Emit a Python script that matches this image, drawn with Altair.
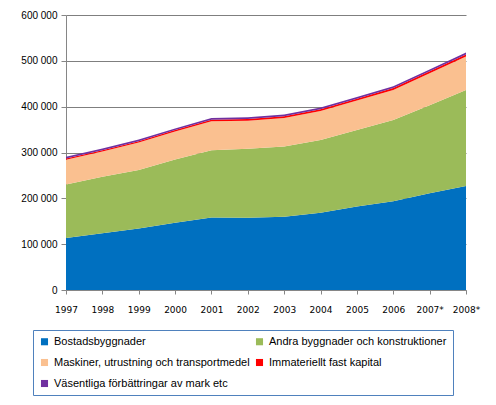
import altair as alt
import pandas as pd

years = ["1997", "1998", "1999", "2000", "2001", "2002",
         "2003", "2004", "2005", "2006", "2007*", "2008*"]

series_names = [
    "Bostadsbyggnader",
    "Andra byggnader och konstruktioner",
    "Maskiner, utrustning och transportmedel",
    "Immateriellt fast kapital",
    "Väsentliga förbättringar av mark etc",
]
series_colors = ["#0070c0", "#9bbb59", "#fac090", "#ff0000", "#7030a0"]

bostad = [113500, 123700, 134000, 147000, 158000, 157500,
          160000, 168800, 182000, 193600, 211000, 227000]
andra = [116500, 123300, 128000, 138000, 147000, 150500,
         153000, 158700, 167000, 177400, 192000, 209600]
maskiner = [54000, 55000, 59600, 60600, 63000, 61500,
            62500, 63300, 64300, 65600, 70000, 72800]
immateriellt = [3000, 3100, 3200, 3300, 3500, 3500,
                3500, 3600, 3800, 3900, 4100, 4300]
mark = [3500, 3600, 3600, 3700, 3800, 3800,
        3900, 3900, 4000, 4100, 4200, 4400]

rows = []
for idx, (name, vals) in enumerate(zip(series_names, [bostad, andra, maskiner, immateriellt, mark])):
    for yr, v in zip(years, vals):
        rows.append({"year": yr, "serie": name, "value": v, "idx": idx})
df = pd.DataFrame(rows)

chart = alt.Chart(df).mark_area(opacity=1).encode(
    x=alt.X("year:O", sort=years, title=None,
            scale=alt.Scale(type="point", padding=0),
            axis=alt.Axis(labelAngle=0, labelFont="DejaVu Sans", labelFontSize=9,
                          labelColor="#000000", labelPadding=11, tickSize=4,
                          tickColor="#868686", domainColor="#868686", grid=False)),
    y=alt.Y("value:Q", stack="zero", title=None,
            scale=alt.Scale(domain=[0, 600000], nice=False),
            axis=alt.Axis(values=[0, 100000, 200000, 300000, 400000, 500000, 600000],
                          labelExpr="replace(format(datum.value, ','), ',', ' ')",
                          labelFont="Liberation Sans", labelFontSize=10,
                          labelColor="#000000", labelPadding=4, tickSize=5,
                          tickColor="#868686", domainColor="#868686",
                          gridColor="#7f7f7f", gridWidth=1)),
    color=alt.Color("serie:N", sort=series_names,
                    scale=alt.Scale(domain=series_names, range=series_colors),
                    legend=alt.Legend(title=None, orient="none", legendX=-33, legendY=315,
                                      columns=2, direction="horizontal", gridAlign="all",
                                      symbolType="square", symbolSize=50,
                                      symbolStrokeWidth=0, labelFont="Liberation Sans",
                                      labelFontSize=11, labelColor="#000000",
                                      rowPadding=9, columnPadding=4, labelLimit=300,
                                      strokeColor="#4f81bd", padding=6)),
    order=alt.Order("idx:Q", sort="ascending"),
).properties(
    width=400,
    height=275,
    autosize=alt.AutoSizeParams(type="none"),
    padding={"left": 58, "top": 7, "right": 22, "bottom": 107},
).configure_view(stroke=None)

chart.save("out.html", embed_options={"renderer": "svg", "actions": False})
